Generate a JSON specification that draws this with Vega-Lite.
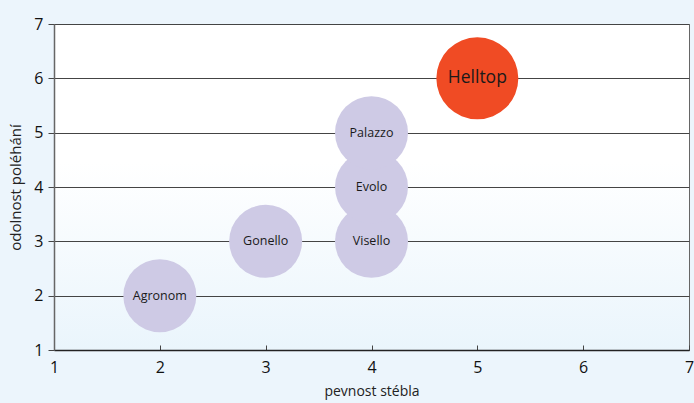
{
  "$schema": "https://vega.github.io/schema/vega-lite/v6.json",
  "autosize": "none",
  "padding": {"left": 54, "top": 24, "right": 5, "bottom": 53},
  "width": 635,
  "height": 326,
  "background": "#ecf5fc",
  "config": {
    "font": "Open Sans",
    "view": {
      "stroke": "#666",
      "strokeWidth": 1,
      "fill": {
        "gradient": "linear",
        "x1": 0, "y1": 0, "x2": 0, "y2": 1,
        "stops": [
          {"offset": 0, "color": "#ffffff"},
          {"offset": 0.42, "color": "#ffffff"},
          {"offset": 1, "color": "#eaf5fc"}
        ]
      }
    }
  },
  "data": {
    "values": [
      {"odruda": "Agronom", "pevnost": 2, "odolnost": 2},
      {"odruda": "Gonello", "pevnost": 3, "odolnost": 3},
      {"odruda": "Visello", "pevnost": 4, "odolnost": 3},
      {"odruda": "Evolo", "pevnost": 4, "odolnost": 4},
      {"odruda": "Palazzo", "pevnost": 4, "odolnost": 5},
      {"odruda": "Helltop", "pevnost": 5, "odolnost": 6}
    ]
  },
  "encoding": {
    "x": {
      "field": "pevnost", "type": "quantitative",
      "scale": {"domain": [1, 7], "nice": false, "zero": false},
      "axis": {
        "title": "pevnost stébla",
        "values": [1, 2, 3, 4, 5, 6, 7],
        "grid": false,
        "labelFlush": false,
        "domainColor": "#222",
        "domainWidth": 1.5,
        "tickColor": "#444",
        "tickSize": -5,
        "labelPadding": 14,
        "labelFontSize": 16,
        "labelColor": "#111",
        "titleFontSize": 14,
        "titleFontWeight": "normal",
        "titleColor": "#222",
        "titlePadding": 9
      }
    },
    "y": {
      "field": "odolnost", "type": "quantitative",
      "scale": {"domain": [1, 7], "nice": false, "zero": false},
      "axis": {
        "title": "odolnost poléhání",
        "values": [1, 2, 3, 4, 5, 6, 7],
        "grid": true,
        "labelFlush": false,
        "gridColor": "#444",
        "gridWidth": 1,
        "domainColor": "#666",
        "domainWidth": 1.5,
        "tickColor": "#444",
        "tickSize": 6,
        "labelPadding": 5,
        "labelFontSize": 16,
        "labelColor": "#111",
        "titleFontSize": 15,
        "titleFontWeight": "normal",
        "titleColor": "#222",
        "titlePadding": 10
      }
    }
  },
  "layer": [
    {
      "mark": {"type": "circle", "opacity": 1},
      "encoding": {
        "color": {"condition": {"test": "datum.odruda === 'Helltop'", "value": "#f04b24"}, "value": "#cecae5"},
        "size": {"condition": {"test": "datum.odruda === 'Helltop'", "value": 6724}, "value": 5329}
      }
    },
    {
      "mark": {"type": "text", "color": "#1a1a1a", "baseline": "middle", "align": "center"},
      "encoding": {
        "text": {"field": "odruda"},
        "size": {"condition": {"test": "datum.odruda === 'Helltop'", "value": 17.5}, "value": 12.5}
      }
    }
  ]
}
